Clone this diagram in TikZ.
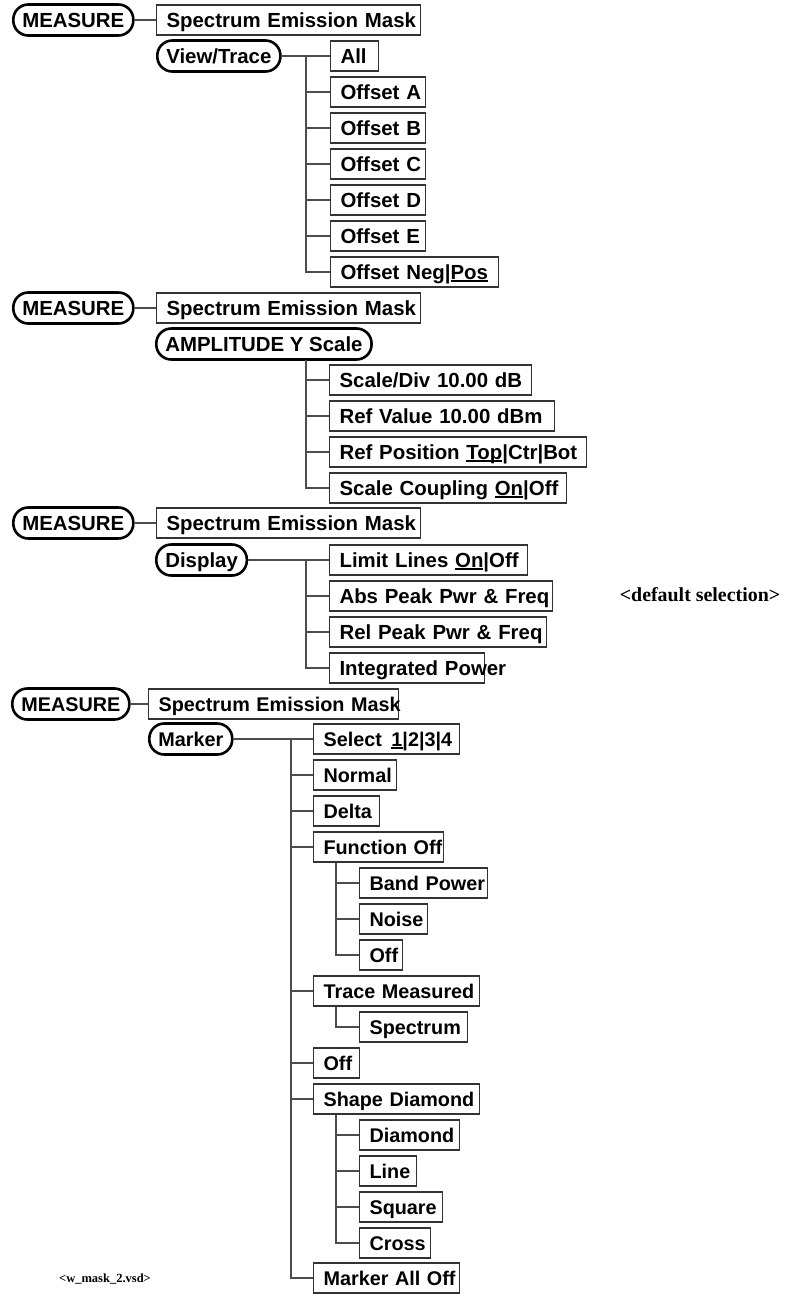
\documentclass[tikz,border=0pt]{standalone}
\usepackage{fontspec}
\setmainfont{Liberation Sans}
\newfontfamily\vsdserif{Liberation Serif}
\newcommand\selul[1]{\setbox0\hbox{#1}\rlap{\rule[-2.6bp]{\wd0}{1.6bp}}\box0}

\begin{document}
\begin{tikzpicture}[x=1bp,y=-1bp,
   pill/.style={draw,line width=2.6bp,rounded corners=15bp,minimum height=31bp,inner xsep=9bp,anchor=west,
      text height=14.6bp,text depth=0bp,font=\bfseries\fontsize{20.4bp}{24bp}\selectfont},
   menu/.style={draw=black!80,line width=1.1bp,minimum height=30bp,inner xsep=10bp,anchor=west,
      text width=#1bp-20bp,align=left,text height=14.6bp,text depth=0bp,
      font=\bfseries\fontsize{20.4bp}{24bp}\selectfont,
      execute at begin node={\hbox\bgroup},execute at end node={\egroup}},
   narrow/.style={font=\bfseries\fontsize{19.8bp}{24bp}\selectfont,text height=14.2bp},
   wire/.style={draw=black!70,line width=1.1bp}]
   \useasboundingbox (0,0) rectangle (788,1294);

   \node[pill] (m1) at (12,20) {MEASURE};
   \node[menu=264] (s1) at (156,20) {Spectrum Emission Mask};
   \node[pill] (v1) at (156,56) {View/Trace};
   \node[menu=48] (all) at (330,56) {All};
   \node[menu=95] (oa) at (330,92) {Offset A};
   \node[menu=95] (ob) at (330,128) {Offset B};
   \node[menu=95] (oc) at (330,164) {Offset C};
   \node[menu=95] (od) at (330,200) {Offset D};
   \node[menu=95] (oe) at (330,236) {Offset E};
   \node[menu=168] (onp) at (330,272) {Offset Neg|\selul{Pos}};
   \draw[wire] (m1.east) -- (s1.west);
   \draw[wire] (v1.east) -- (all.west);
   \coordinate (t1) at (306,56);
   \foreach \c in {oa,ob,oc,od,oe,onp}
      \draw[wire] (t1) |- (\c.west);

   \node[pill] (m2) at (12,308) {MEASURE};
   \node[menu=264] (s2) at (156,308) {Spectrum Emission Mask};
   \node[pill] (a2) at (155,344) {AMPLITUDE Y Scale};
   \node[menu=202] (sd) at (329,380) {Scale/Div 10.00 dB};
   \node[menu=225] (rv) at (329,416) {Ref Value 10.00 dBm};
   \node[menu=257] (rp) at (329,452) {Ref Position \selul{Top}|Ctr|Bot};
   \node[menu=237] (sc) at (329,488) {Scale Coupling \selul{On}|Off};
   \draw[wire] (m2.east) -- (s2.west);
   \coordinate (t2) at (306,360);
   \foreach \c in {sd,rv,rp,sc}
      \draw[wire] (t2) |- (\c.west);

   \node[pill] (m3) at (12,523) {MEASURE};
   \node[menu=264] (s3) at (156,523) {Spectrum Emission Mask};
   \node[pill] (d3) at (155,560) {Display};
   \node[menu=198] (ll) at (329,560) {Limit Lines \selul{On}|Off};
   \node[menu=223] (ap) at (329,596) {Abs Peak Pwr \& Freq};
   \node[menu=217] (rpk) at (329,632) {Rel Peak Pwr \& Freq};
   \node[menu=155] (ip) at (329,668) {Integrated Power};
   \node[font=\vsdserif\bfseries\fontsize{19.9bp}{22bp}\selectfont] (dflt) at (700,595) {<default selection>};
   \draw[wire] (m3.east) -- (s3.west);
   \draw[wire] (d3.east) -- (ll.west);
   \coordinate (t3) at (306,560);
   \foreach \c in {ap,rpk,ip}
      \draw[wire] (t3) |- (\c.west);

   \node[pill,narrow] (m4) at (11,704) {MEASURE};
   \node[menu=250,narrow] (s4) at (148,704) {Spectrum Emission Mask};
   \node[pill,narrow] (k4) at (148,739) {Marker};
   \node[menu=146,narrow] (sel) at (313,739) {Select\hspace{3bp} \selul{1}|2|3|4};
   \node[menu=83,narrow] (nm) at (313,775) {Normal};
   \node[menu=66,narrow] (dl) at (313,811) {Delta};
   \node[menu=130,narrow] (fo) at (313,847) {Function Off};
   \node[menu=128,narrow] (bp) at (359,883) {Band Power};
   \node[menu=68,narrow] (ns) at (359,919) {Noise};
   \node[menu=43,narrow] (fof) at (359,955) {Off};
   \node[menu=166,narrow] (tm) at (313,991) {Trace Measured};
   \node[menu=108,narrow] (spc) at (359,1027) {Spectrum};
   \node[menu=46,narrow] (off) at (313,1063) {Off};
   \node[menu=166,narrow] (shd) at (313,1099) {Shape Diamond};
   \node[menu=100,narrow] (dm) at (359,1135) {Diamond};
   \node[menu=57,narrow] (ln) at (359,1171) {Line};
   \node[menu=83,narrow] (sq) at (359,1207) {Square};
   \node[menu=71,narrow] (cr) at (359,1243) {Cross};
   \node[menu=146,narrow] (mao) at (313,1278) {Marker All Off};
   \node[font=\vsdserif\bfseries\fontsize{12.5bp}{14bp}\selectfont] (vsd) at (105,1279) {<w\_mask\_2.vsd>};
   \draw[wire] (m4.east) -- (s4.west);
   \draw[wire] (k4.east) -- (sel.west);
   \coordinate (t4) at (291,739);
   \foreach \c in {nm,dl,fo,tm,off,shd,mao}
      \draw[wire] (t4) |- (\c.west);
   \foreach \c in {bp,ns,fof}
      \draw[wire] ([xshift=23bp]fo.south west) |- (\c.west);
   \draw[wire] ([xshift=23bp]tm.south west) |- (spc.west);
   \foreach \c in {dm,ln,sq,cr}
      \draw[wire] ([xshift=23bp]shd.south west) |- (\c.west);
\end{tikzpicture}
\end{document}
